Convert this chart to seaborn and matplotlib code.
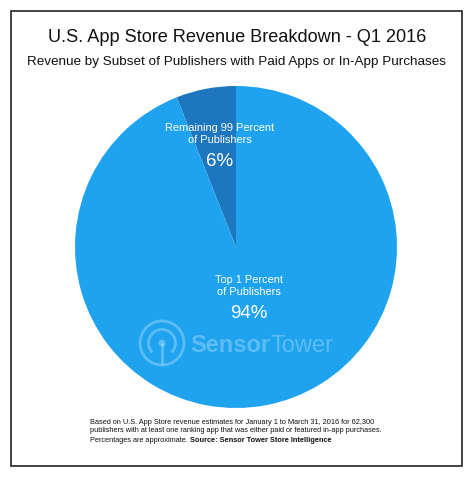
import matplotlib
matplotlib.use("Agg")
import matplotlib.pyplot as plt
import seaborn as sns
from matplotlib.patches import Rectangle, Circle, Arc

# Data
segments = ["Remaining 99 Percent\nof Publishers", "Top 1 Percent\nof Publishers"]
shares = [6, 94]
share_labels = ["6%", "94%"]

sns.set_style("white")
plt.rcParams['font.family'] = ['Liberation Sans', 'DejaVu Sans']

W, H = 473, 479
fig = plt.figure(figsize=(W / 100, H / 100), dpi=100)
fig.patch.set_facecolor("white")

# frame around the whole graphic
fig.add_artist(Rectangle((10.5 / W, (H - 465.5) / H), 451 / W, 455 / H,
                         transform=fig.transFigure, fill=False,
                         edgecolor="#222222", linewidth=1.2))

fig.text(237 / W, 1 - 38 / H, "U.S. App Store Revenue Breakdown - Q1 2016",
         ha="center", va="center", fontsize=13.1, color="#111111")
fig.text(236 / W, 1 - 62 / H,
         "Revenue by Subset of Publishers with Paid Apps or In-App Purchases",
         ha="center", va="center", fontsize=9.7, color="#111111")

# pie axes: centre (236, 247) px, radius 161 px
cx, cy, r = 236, 247, 161
ax = fig.add_axes([(cx - r) / W, (H - cy - r) / H, 2 * r / W, 2 * r / H])
colors = ["#1D76BE", "#1FA3EF"]
ax.pie(shares, colors=colors, startangle=90, counterclock=True, radius=1,
       wedgeprops=dict(linewidth=0))
ax.set_xlim(-1, 1)
ax.set_ylim(-1, 1)
ax.set_aspect("equal")
ax.axis("off")


def px(x, y):
    return ((x - cx) / r, (cy - y) / r)


# segment labels
label_pos = [(220, 134, 161), (249, 286, 313)]
for name, pct, (x, y_name, y_pct) in zip(segments, share_labels, label_pos):
    ax.text(*px(x, y_name), name, ha="center", va="center", fontsize=7.9,
            color="white", linespacing=1.3)
    ax.text(*px(x, y_pct), pct, ha="center", va="center", fontsize=13.5,
            color="white")

# Sensor Tower watermark
wm = dict(color="white", alpha=0.28)
ix, iy = px(162, 343)
ax.add_patch(Circle((ix, iy), 22 / r, fill=False, linewidth=2.0, **wm))
ax.add_patch(Arc((ix, iy), 27 / r, 27 / r, theta1=-45, theta2=225,
                 linewidth=2.0, **wm))
ax.add_patch(Circle((ix, iy), 3.5 / r, fill=True, linewidth=0, **wm))
ax.plot([ix, ix], [iy, iy - 21 / r], linewidth=2.0, solid_capstyle="butt", **wm)
t1 = ax.text(*px(190, 346), "Sensor", ha="left", va="center",
             fontsize=17, fontweight="bold", **wm)
ax.annotate("Tower", xy=(1, 0.5), xycoords=t1, ha="left", va="center",
            fontsize=17, **wm)

# footnote
fx = 90 / W
fs = 5.3
fig.text(fx, 1 - 422 / H,
         "Based on U.S. App Store revenue estimates for January 1 to March 31, 2016 for 62,300",
         ha="left", va="center", fontsize=fs, color="#111111")
fig.text(fx, 1 - 431 / H,
         "publishers with at least one ranking app that was either paid or featured in-app purchases.",
         ha="left", va="center", fontsize=fs, color="#111111")
n1 = fig.text(fx, 1 - 442 / H, "Percentages are approximate. ",
              ha="left", va="baseline", fontsize=fs, color="#111111")
fig.add_artist(plt.Annotation("Source: Sensor Tower Store Intelligence",
                              xy=(1, 0), xycoords=n1, ha="left", va="bottom",
                              fontsize=fs, fontweight="bold", color="#111111"))

fig.savefig("out.png", dpi=100)
plt.close(fig)
